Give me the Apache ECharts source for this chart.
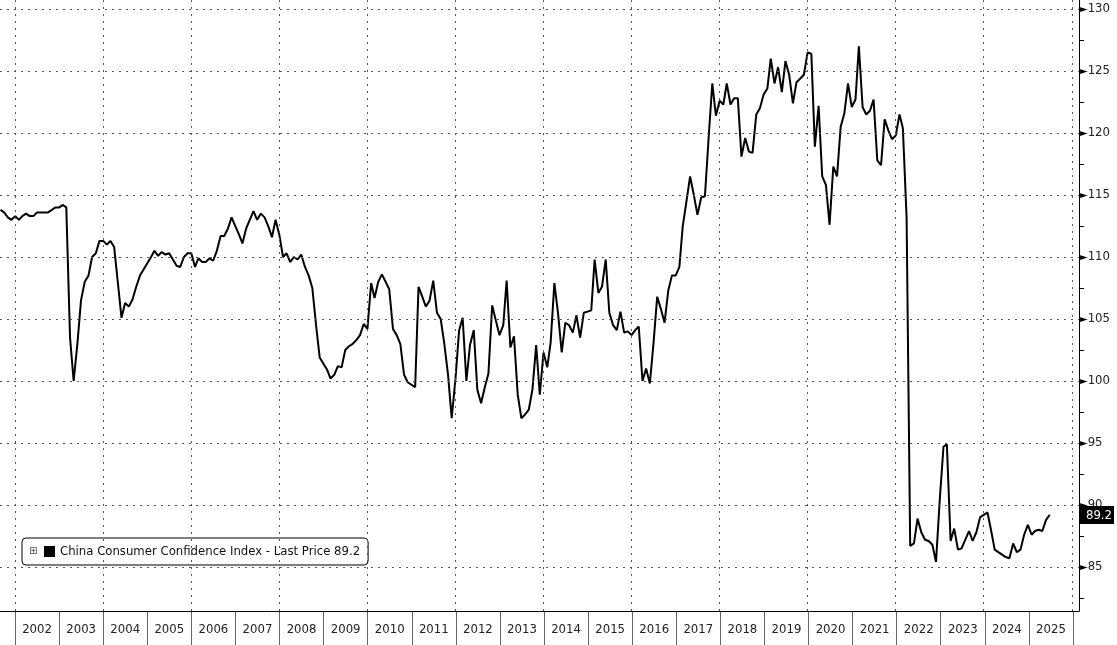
<!DOCTYPE html>
<html>
<head>
<meta charset="UTF-8">
<script src="https://cdn.jsdelivr.net/npm/echarts@6/dist/echarts.min.js"></script>
<style>body{margin:0;background:#fff}</style>
</head>
<body>
<div id="main" style="width:1117px;height:645px;"></div>
<script>
// monthly values, starting Sep 2001
var v2001 = [113.8, 113.6, 113.2, 113.0];
var v2002 = [113.3, 113.0, 113.3, 113.5, 113.3, 113.3, 113.6, 113.6, 113.6, 113.6, 113.8, 114.0];
var v2003 = [114.0, 114.2, 114.0, 103.5, 100.0, 103.0, 106.5, 108.0, 108.5, 110.0, 110.3, 111.3];
var v2004 = [111.3, 111.0, 111.3, 110.8, 108.0, 105.1, 106.3, 106.0, 106.6, 107.6, 108.5, 109.0];
var v2005 = [109.5, 110.0, 110.5, 110.1, 110.4, 110.2, 110.3, 109.8, 109.3, 109.2, 110.0, 110.3];
var v2006 = [110.3, 109.2, 109.9, 109.6, 109.6, 109.9, 109.7, 110.5, 111.7, 111.7, 112.3, 113.2];
var v2007 = [112.5, 111.8, 111.1, 112.3, 113.0, 113.7, 113.0, 113.5, 113.2, 112.5, 111.6, 113.0];
var v2008 = [111.8, 110.0, 110.3, 109.6, 110.0, 109.8, 110.2, 109.2, 108.5, 107.5, 104.5, 101.9];
var v2009 = [101.4, 100.9, 100.2, 100.5, 101.2, 101.1, 102.5, 102.8, 103.0, 103.3, 103.7, 104.6];
var v2010 = [104.2, 107.9, 106.7, 108.0, 108.6, 108.0, 107.4, 104.2, 103.7, 103.0, 100.5, 99.9];
var v2011 = [99.7, 99.5, 107.6, 106.8, 106.0, 106.5, 108.1, 105.5, 105.0, 103.0, 100.5, 97.0];
var v2012 = [100.1, 104.1, 105.1, 100.0, 102.9, 104.1, 99.3, 98.2, 99.5, 100.6, 106.1, 104.9];
var v2013 = [103.7, 104.5, 108.1, 102.7, 103.6, 98.9, 97.0, 97.3, 97.7, 99.3, 102.9, 98.9];
var v2014 = [102.3, 101.1, 103.1, 107.9, 105.5, 102.3, 104.7, 104.5, 103.9, 105.3, 103.5, 105.5];
var v2015 = [105.6, 105.7, 109.8, 107.1, 107.6, 109.8, 105.5, 104.5, 104.1, 105.6, 103.9, 104.0];
var v2016 = [103.7, 104.1, 104.4, 100.0, 101.0, 99.8, 103.0, 106.8, 105.8, 104.7, 107.3, 108.5];
var v2017 = [108.5, 109.2, 112.5, 114.5, 116.5, 115.0, 113.4, 114.8, 114.9, 119.5, 124.0, 121.4];
var v2018 = [122.6, 122.3, 124.0, 122.3, 122.8, 122.8, 118.1, 119.6, 118.5, 118.4, 121.5, 122.0];
var v2019 = [123.1, 123.6, 126.0, 124.0, 125.3, 123.3, 125.8, 124.7, 122.4, 124.1, 124.4, 124.7];
var v2020 = [126.5, 126.4, 118.9, 122.2, 116.5, 115.8, 112.6, 117.3, 116.5, 120.5, 121.6, 124.0];
var v2021 = [122.1, 122.7, 127.0, 122.1, 121.5, 121.8, 122.7, 117.8, 117.4, 121.1, 120.2, 119.5];
var v2022 = [119.8, 121.5, 120.4, 113.2, 86.7, 86.9, 88.9, 87.8, 87.2, 87.1, 86.8, 85.4];
var v2023 = [90.4, 94.7, 94.9, 87.1, 88.1, 86.4, 86.5, 87.2, 87.9, 87.1, 87.8, 89.0];
var v2024 = [89.2, 89.4, 88.0, 86.4, 86.2, 86.0, 85.8, 85.7, 86.9, 86.2, 86.4, 87.6];
var v2025 = [88.4, 87.6, 87.9, 88.0, 87.9, 88.8, 89.2];

var years = [];
for (var y = 2002; y <= 2025; y++) years.push(String(y));
var majorTicks = [85, 90, 95, 100, 105, 110, 115, 120, 125, 130];
var minorTicks = [82.5, 87.5, 92.5, 97.5, 102.5, 107.5, 112.5, 117.5, 122.5, 127.5];
var gridYears = ['2002', '2004', '2006', '2008', '2010', '2012', '2014', '2016', '2018', '2020', '2022', '2024', '2026'];
var lastPrice = 89.2;
var seriesName = 'China Consumer Confidence Index - Last Price 89.2';

var values = [].concat(v2001, v2002, v2003, v2004, v2005, v2006, v2007, v2008, v2009, v2010,
  v2011, v2012, v2013, v2014, v2015, v2016, v2017, v2018, v2019, v2020, v2021, v2022, v2023, v2024, v2025);
var data = values.map(function (v, i) {
  var m = 8 + i; // Sep 2001 = month index 8
  return [Date.UTC(2001 + Math.floor(m / 12), m % 12, 1), v];
});

var gridLines = majorTicks.map(function (t) { return { yAxis: t }; })
  .concat(gridYears.map(function (yr) { return { xAxis: Date.UTC(+yr, 0, 1) }; }));

var myChart = echarts.init(document.getElementById('main'));
var font = 'Liberation Sans';
myChart.setOption({
  animation: false,
  grid: [
    { left: 0, right: 36, top: 0, bottom: 34 },
    { left: 15, right: 44, top: 611, height: 34 }
  ],
  legend: {
    data: [{ name: seriesName, icon: 'rect' }],
    left: 22, top: 538,
    padding: [7, 8, 7, 22],
    itemWidth: 11, itemHeight: 11, itemGap: 5,
    borderColor: '#000', borderWidth: 1, borderRadius: 4,
    backgroundColor: '#fff',
    textStyle: { fontFamily: 'DejaVu Sans Condensed', fontSize: 13, color: '#111' }
  },
  graphic: [{
    type: 'text', left: 29, top: 546, z: 100,
    style: { text: '⊞', fontSize: 10, fill: '#555', fontFamily: 'DejaVu Sans' }
  }],
  xAxis: [{
    type: 'time', gridIndex: 0,
    min: Date.UTC(2001, 7, 28), max: Date.UTC(2026, 2, 1),
    axisLine: { lineStyle: { color: '#000' } },
    axisTick: { show: false }, axisLabel: { show: false }, splitLine: { show: false }
  }, {
    type: 'category', gridIndex: 1, data: years,
    axisLine: { show: false }, axisTick: { show: false },
    splitLine: { show: true, interval: 0, lineStyle: { color: '#666' } },
    axisLabel: { interval: 0, margin: -22, color: '#222', fontFamily: 'DejaVu Sans Condensed', fontSize: 13 }
  }],
  yAxis: [{
    type: 'value', gridIndex: 0, position: 'right',
    min: 81.45, max: 130.73,
    axisLine: { show: true, lineStyle: { color: '#000' } },
    axisTick: { show: true, customValues: minorTicks, length: 5, lineStyle: { color: '#000' } },
    splitLine: { show: false },
    axisLabel: {
      customValues: majorTicks.concat([lastPrice]), margin: 1,
      formatter: function (v) {
        if (v === lastPrice) return '{tag|' + v.toFixed(1) + '}';
        return '{arr|►}' + v;
      },
      rich: {
        arr: { fontSize: 10, color: '#000', fontFamily: 'DejaVu Sans' },
        tag: { backgroundColor: '#000', color: '#fff', fontSize: 13, padding: [3, 2, 2, 6], fontFamily: 'DejaVu Sans Condensed' }
      },
      color: '#222', fontFamily: 'DejaVu Sans Condensed', fontSize: 13
    }
  }, {
    type: 'value', gridIndex: 1, show: false
  }],
  series: [{
    name: seriesName, type: 'line', xAxisIndex: 0, yAxisIndex: 0,
    data: data, showSymbol: false,
    lineStyle: { color: '#000', width: 2 }, itemStyle: { color: '#000' },
    markLine: {
      silent: true, symbol: 'none', label: { show: false },
      lineStyle: { color: '#555', type: [2, 5], width: 1 },
      data: gridLines
    }
  }]
});
</script>
</body>
</html>
